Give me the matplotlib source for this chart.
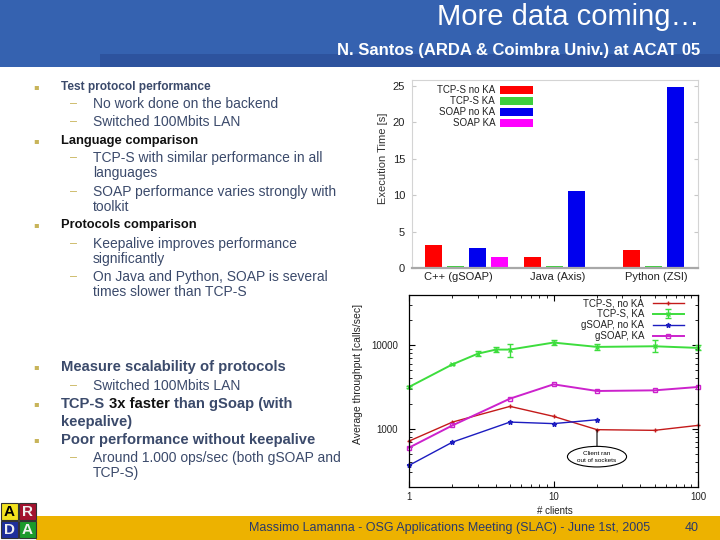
import numpy as np
import matplotlib
matplotlib.use("Agg")
import matplotlib.pyplot as plt
from matplotlib.patches import Rectangle
from matplotlib.ticker import LogLocator, NullFormatter, FixedLocator

plt.rcParams['font.family'] = ['Liberation Sans', 'DejaVu Sans']

# execution time for 1000 pings [s]
languages = ["C++ (gSOAP)", "Java (Axis)", "Python (ZSI)"]
bar_series = ["TCP-S no KA", "TCP-S KA", "SOAP no KA", "SOAP KA"]
tcps_noka = [3.1, 1.45, 2.5]
tcps_ka = [0.25, 0.25, 0.3]
soap_noka = [2.8, 10.6, 24.8]
soap_ka = [1.55, np.nan, np.nan]
bar_ticks = [0, 5, 10, 15, 20, 25]

# average throughput [calls/sec] vs number of clients
line_series = ["TCP-S, no KA", "TCP-S, KA", "gSOAP, no KA", "gSOAP, KA"]
clients_ka = [1, 2, 3, 4, 5, 10, 20, 50, 100]
tcps_ka_thr = [3160, 5900, 7930, 8870, 8870, 10760, 9550, 9720, 9290]
tcps_ka_lo = [3100, 5800, 7380, 8240, 7250, 10000, 8870, 8320, 8710]
tcps_ka_hi = [3220, 6000, 8545, 9550, 10470, 11700, 10280, 11480, 10000]
clients = [1, 2, 5, 10, 20, 50, 100]
tcps_noka_thr = [710, 1200, 1850, 1405, 973, 955, 1095]
gsoap_ka_thr = [592, 1095, 2290, 3400, 2830, 2880, 3160]
clients_gs = [1, 2, 5, 10, 20]
gsoap_noka_thr = [363, 690, 1200, 1150, 1280]

slate = '#3b4a6b'
gold = '#c8b45a'

fig = plt.figure(figsize=(7.2, 5.4), dpi=100)
fig.patch.set_facecolor('white')

# slide background in pixel coordinates
bg = fig.add_axes([0, 0, 1, 1], zorder=0)
bg.set_xlim(0, 720)
bg.set_ylim(540, 0)
bg.axis('off')

bg.add_patch(Rectangle((0, 0), 720, 67, color='#3562b0', lw=0))
bg.add_patch(Rectangle((100, 54), 620, 13, color='#2d539e', lw=0))
bg.text(700, 17, "More data coming…", color='white', fontsize=21,
        ha='right', va='center')
bg.text(700, 50, "N. Santos (ARDA & Coimbra Univ.) at ACAT 05", color='white',
        fontsize=12, fontweight='bold', ha='right', va='center')

bg.add_patch(Rectangle((36, 516), 684, 24, color='#edb200', lw=0))
bg.text(450, 528, "Massimo Lamanna - OSG Applications Meeting (SLAC) - June 1st, 2005",
        color='#2a3a6a', fontsize=9, ha='center', va='center')
bg.text(692, 528, "40", color='#2a3a6a', fontsize=9, ha='center', va='center')

# ARDA logo
for (lx, ly, fc, letter, tc) in [(1, 503, '#f2e21e', 'A', 'black'),
                                 (19, 503, '#a3122e', 'R', '#f0f0f0'),
                                 (1, 521, '#1f2f9c', 'D', '#f0f0f0'),
                                 (19, 521, '#1c9a2c', 'A', '#f0f0f0')]:
    bg.add_patch(Rectangle((lx, ly), 17, 17, fc=fc, ec='#333333', lw=0.8))
    bg.text(lx + 8.5, ly + 9, letter, color=tc, fontsize=11, fontweight='bold',
            ha='center', va='center')


def bullet(y):
    bg.text(36, y, '▪', color=gold, fontsize=6, ha='center', va='center',
            family=['DejaVu Sans'])


def dash(y):
    bg.text(74, y, '–', color=gold, fontsize=9, ha='center', va='center')


def sub(y, s):
    bg.text(93, y, s, color=slate, fontsize=10, ha='left', va='center')


bullet(87)
bg.text(61, 87, "Test protocol performance", color=slate, fontsize=8.6,
        fontweight='bold', ha='left', va='center')
dash(104); sub(104, "No work done on the backend")
dash(122); sub(122, "Switched 100Mbits LAN")
bullet(141)
bg.text(61, 141, "Language comparison", color='#111111', fontsize=9.3,
        fontweight='bold', ha='left', va='center')
dash(158); sub(158, "TCP-S with similar performance in all")
sub(173, "languages")
dash(192); sub(192, "SOAP performance varies strongly with")
sub(207, "toolkit")
bullet(225)
bg.text(61, 225, "Protocols comparison", color='#111111', fontsize=9.3,
        fontweight='bold', ha='left', va='center')
dash(244); sub(244, "Keepalive improves performance")
sub(259, "significantly")
dash(277); sub(277, "On Java and Python, SOAP is several")
sub(292, "times slower than TCP-S")

bullet(367)
bg.text(61, 367, "Measure scalability of protocols", color=slate, fontsize=10.6,
        fontweight='bold', ha='left', va='center')
dash(386); sub(386, "Switched 100Mbits LAN")
bullet(404)
t1 = bg.text(61, 404, "TCP-S", color=slate, fontsize=10.6, fontweight='bold',
             ha='left', va='center')
t2 = bg.annotate("3x faster", xy=(1, 0), xycoords=t1, xytext=(3, 0),
                 textcoords='offset points', color='#111111', fontsize=10.6,
                 fontweight='bold', ha='left', va='bottom')
bg.annotate("than gSoap (with", xy=(1, 0), xycoords=t2, xytext=(3, 0),
            textcoords='offset points', color=slate, fontsize=10.6,
            fontweight='bold', ha='left', va='bottom')
bg.text(61, 422, "keepalive)", color=slate, fontsize=10.6, fontweight='bold',
        ha='left', va='center')
bullet(440)
bg.text(61, 440, "Poor performance without keepalive", color=slate, fontsize=10.6,
        fontweight='bold', ha='left', va='center')
dash(458); sub(458, "Around 1.000 ops/sec (both gSOAP and")
sub(473, "TCP-S)")

# ---- bar chart ----
ax1 = fig.add_axes([412 / 720, 1 - 268 / 540, 286 / 720, 188 / 540], zorder=2)
x = np.arange(len(languages))
slot, w = 0.222, 0.172
bar_colors = ['#ff0000', '#3dcf3d', '#0000ee', '#ff00ff']
for k, (vals, lab, c) in enumerate(zip([tcps_noka, tcps_ka, soap_noka, soap_ka],
                                       bar_series, bar_colors)):
    ax1.bar(x + k * slot, vals, w, color=c, label=lab)
ax1.set_xlim(-0.222, 2.667)
ax1.set_ylim(0, 25.8)
ax1.set_yticks(bar_ticks)
ax1.set_xticks(x + 0.25)
ax1.set_xticklabels(languages)
ax1.tick_params(axis='x', length=0, labelsize=8, pad=3, labelcolor='#222222')
ax1.tick_params(axis='y', direction='in', length=3, color='#c8c8c8', right=True,
                labelsize=8, pad=5, labelcolor='#222222')
for s in ['top', 'left', 'right']:
    ax1.spines[s].set_color('#d4d4d4')
    ax1.spines[s].set_linewidth(0.8)
ax1.spines['bottom'].set_color('#a8a8a8')
ax1.spines['bottom'].set_linewidth(1.6)
ax1.legend(loc='upper left', bbox_to_anchor=(437 / 720, 1 - 85 / 540),
           bbox_transform=fig.transFigure, frameon=False, markerfirst=False,
           fontsize=7, labelspacing=0.1, handlelength=3.4, handleheight=0.9,
           handletextpad=0.5, borderpad=0, borderaxespad=0, labelcolor='#222222')
bg.text(383, 158, "Execution Time [s]", rotation=90, fontsize=8,
        color='#333333', ha='center', va='center')
bg.text(558, 157, "1000 pings", color='#3b4f74', fontsize=9, fontweight='bold',
        ha='center', va='center')

# ---- throughput chart ----
ax2 = fig.add_axes([409 / 720, 1 - 487 / 540, 289 / 720, 192 / 540], zorder=2)
ax2.set_xscale('log')
ax2.set_yscale('log')
h0, = ax2.plot(clients, tcps_noka_thr, color='#c41a1a', lw=1.0, marker='+', ms=3.5,
               label=line_series[0], clip_on=False)
ka = np.array(tcps_ka_thr)
h1 = ax2.errorbar(clients_ka, tcps_ka_thr,
                  yerr=[ka - np.array(tcps_ka_lo), np.array(tcps_ka_hi) - ka],
                  color='#3ddd3d', lw=1.4, marker='x', ms=3, capsize=2, elinewidth=1,
                  label=line_series[1], clip_on=False)
h2, = ax2.plot(clients_gs, gsoap_noka_thr, color='#1c1cc0', lw=1.0, marker='*', ms=3.5,
               label=line_series[2], clip_on=False)
h3, = ax2.plot(clients, gsoap_ka_thr, color='#cc22cc', lw=1.4, marker='s', ms=3,
               mfc='none', label=line_series[3], clip_on=False)
ax2.set_xlim(1, 100)
ax2.set_ylim(200, 40000)
ax2.xaxis.set_major_locator(FixedLocator([1, 10, 100]))
ax2.xaxis.set_minor_locator(LogLocator(base=10, subs=np.arange(2, 10)))
ax2.xaxis.set_minor_formatter(NullFormatter())
ax2.set_xticklabels(["1", "10", "100"])
ax2.yaxis.set_major_locator(FixedLocator([1000, 10000]))
ax2.yaxis.set_minor_locator(LogLocator(base=10, subs=np.arange(2, 10)))
ax2.yaxis.set_minor_formatter(NullFormatter())
ax2.set_yticklabels(["1000", "10000"])
ax2.tick_params(which='both', direction='in', top=True, right=True,
                labelsize=7, labelcolor='#222222')
ax2.tick_params(which='major', length=4)
ax2.tick_params(which='minor', length=2)
ax2.tick_params(axis='y', pad=8)
for s in ax2.spines.values():
    s.set_linewidth(0.9)
ax2.annotate("Client ran\nout of sockets", xy=(20, 965), xytext=(20, 462),
             ha='center', va='center', fontsize=4.6, linespacing=1.5,
             bbox=dict(boxstyle='ellipse,pad=0.2', fc='white', ec='black', lw=0.8),
             arrowprops=dict(arrowstyle='-', color='black', lw=0.8,
                             shrinkA=0, shrinkB=0))
ax2.legend(handles=[h0, h1, h2, h3], labels=line_series,
           loc='upper right', bbox_to_anchor=(684 / 720, 1 - 298 / 540),
           bbox_transform=fig.transFigure, frameon=False, markerfirst=False,
           fontsize=7, labelspacing=0.1, handlelength=3.2, handletextpad=0.9,
           borderpad=0, borderaxespad=0, labelcolor='#222222')
bg.text(555, 511, "# clients", fontsize=7, color='#222222', ha='center', va='center')
bg.text(358, 374, "Average throughput [calls/sec]", rotation=90, fontsize=7.5,
        color='#222222', ha='center', va='center')

fig.savefig("out.png", dpi=100)
